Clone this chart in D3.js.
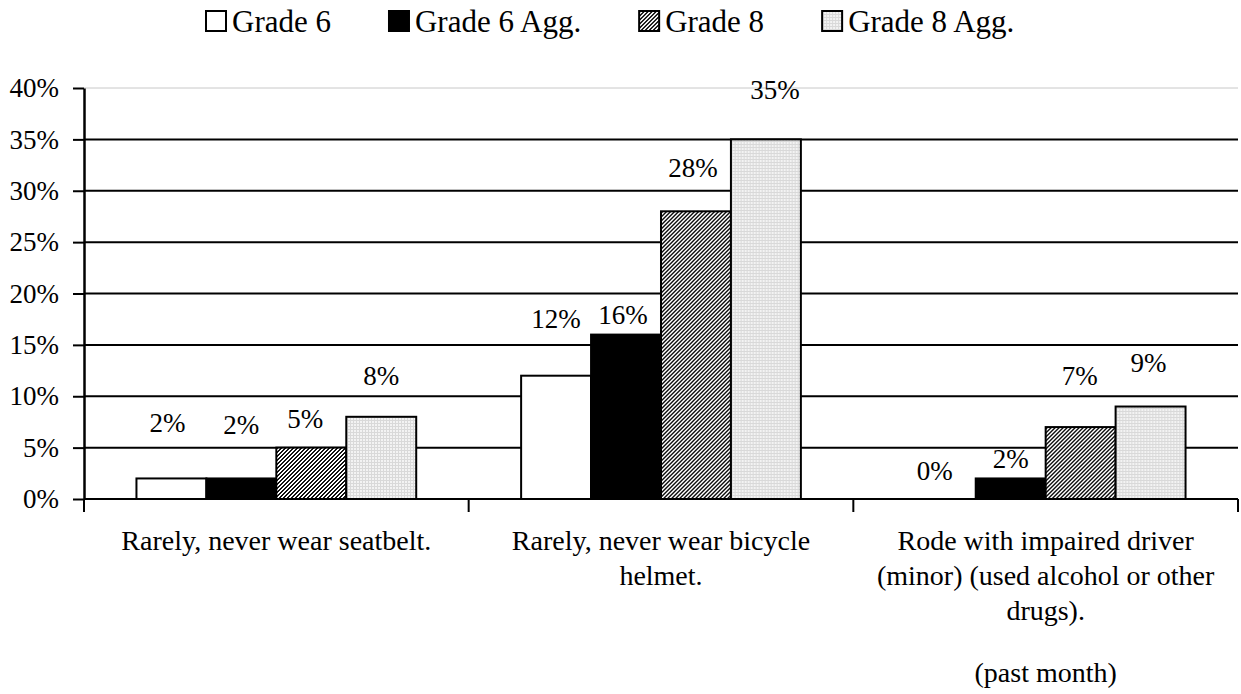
<!DOCTYPE html>
<html>
<head>
<meta charset="utf-8">
<script src="https://cdn.jsdelivr.net/npm/d3@7"></script>
<style>
  body { margin: 0; background: #fff; }
  text { font-family: "Liberation Serif", "Times New Roman", serif; fill: #000; }
</style>
</head>
<body>
<div id="chart"></div>
<script>
// chart data
var categories = [
  ["Rarely, never wear seatbelt."],
  ["Rarely, never wear bicycle", "helmet."],
  ["Rode with impaired driver", "(minor) (used alcohol or other", "drugs)."]
];
var footNote = "(past month)";
var seriesNames = ["Grade 6", "Grade 6 Agg.", "Grade 8", "Grade 8 Agg."];
var grade6 = [2, 12, 0];
var grade6Agg = [2, 16, 2];
var grade8 = [5, 28, 7];
var grade8Agg = [8, 35, 9];
var yTicks = [0, 5, 10, 15, 20, 25, 30, 35, 40];

// data label nudges [dx, dy] (the labels sit where they were dragged in the original)
var labelNudge = [
  [[-4, -46], [0, -44], [-6, -20], [0, -32]],
  [[0, -48], [-3, -11], [-3, -34], [9, -40]],
  [[-6, -19], [0, -10], [-1, -42], [-2, -35]]
];

var W = 1241, H = 694;
var margin = { top: 88, right: 3, bottom: 195, left: 84 },
    width = W - margin.left - margin.right,
    height = H - margin.top - margin.bottom;

var svg = d3.select("#chart").append("svg")
    .attr("width", W)
    .attr("height", H);

// fill patterns for the grade 8 bars
var defs = svg.append("defs");
var hatch = defs.append("pattern")
    .attr("id", "hatch")
    .attr("patternUnits", "userSpaceOnUse")
    .attr("width", 4).attr("height", 4);
hatch.append("rect").attr("width", 4).attr("height", 4).attr("fill", "#fff");
// upward diagonal stripes, pixel by pixel
for (var px = 0; px < 4; px++) {
  for (var py = 0; py < 4; py++) {
    if ((px + py) % 4 < 2) {
      hatch.append("rect")
          .attr("x", px).attr("y", py)
          .attr("width", 1).attr("height", 1)
          .attr("fill", "#111")
          .attr("shape-rendering", "crispEdges");
    }
  }
}

var dots = defs.append("pattern")
    .attr("id", "dots")
    .attr("patternUnits", "userSpaceOnUse")
    .attr("width", 3).attr("height", 3);
dots.append("rect").attr("width", 3).attr("height", 3).attr("fill", "#d9d9d9");
dots.append("rect").attr("width", 2).attr("height", 2).attr("fill", "#f3f3f3");

var fills = ["#fff", "#000", "url(#hatch)", "url(#dots)"];
var seriesValues = [grade6, grade6Agg, grade8, grade8Agg];

var g = svg.append("g")
    .attr("transform", "translate(" + margin.left + "," + margin.top + ")");

// scales
var catIdx = categories.map(function(d, i) { return i; });
var x0 = d3.scaleBand().domain(catIdx).range([0, width]);
var x1 = d3.scaleBand().domain(seriesNames).range([0, x0.bandwidth()]).paddingOuter(0.75);
var y = d3.scaleLinear().domain([0, 40]).range([height, 0]);

// gridlines
g.append("g").selectAll("line")
    .data(yTicks.filter(function(d) { return d > 0; }))
    .enter().append("line")
    .attr("x1", 0).attr("x2", width)
    .attr("y1", function(d) { return y(d); })
    .attr("y2", function(d) { return y(d); })
    .attr("stroke", function(d) { return d === 40 ? "#c8c8c8" : "#000"; })
    .attr("stroke-width", function(d) { return d === 40 ? 1 : 2; });

// bars
var rows = [];
catIdx.forEach(function(c) {
  seriesNames.forEach(function(s, si) {
    rows.push({ cat: c, series: s, si: si, value: seriesValues[si][c], nudge: labelNudge[c][si] });
  });
});

var groups = g.selectAll(".cat")
    .data(catIdx)
    .enter().append("g")
    .attr("class", "cat")
    .attr("transform", function(c) { return "translate(" + x0(c) + ",0)"; });

groups.selectAll("rect")
    .data(function(c) { return rows.filter(function(r) { return r.cat === c && r.value > 0; }); })
    .enter().append("rect")
    .attr("x", function(d) { return x1(d.series); })
    .attr("y", function(d) { return y(d.value); })
    .attr("width", x1.bandwidth())
    .attr("height", function(d) { return height - y(d.value); })
    .attr("fill", function(d) { return fills[d.si]; })
    .attr("stroke", "#000")
    .attr("stroke-width", 2);

groups.selectAll(".lbl")
    .data(function(c) { return rows.filter(function(r) { return r.cat === c; }); })
    .enter().append("text")
    .attr("class", "lbl")
    .attr("x", function(d) { return x1(d.series) + x1.bandwidth() / 2 + d.nudge[0]; })
    .attr("y", function(d) { return y(d.value) + d.nudge[1]; })
    .attr("text-anchor", "middle")
    .style("font-size", "27px")
    .text(function(d) { return d.value + "%"; });

// y axis
var yAxis = d3.axisLeft(y)
    .tickValues(yTicks)
    .tickFormat(function(d) { return d + "%"; })
    .tickSize(11)
    .tickSizeOuter(0)
    .tickPadding(14);

var ya = g.append("g").call(yAxis);
ya.select(".domain").attr("stroke", "#000").attr("stroke-width", 2.5);
ya.selectAll(".tick line").attr("stroke", "#000").attr("stroke-width", 2);
ya.selectAll(".tick text")
    .style("font-size", "27px")
    .style("font-family", "'Liberation Serif', 'Times New Roman', serif")
    .attr("fill", "#000");

// x axis: base line and ticks between categories
g.append("line")
    .attr("x1", 0).attr("x2", width)
    .attr("y1", height).attr("y2", height)
    .attr("stroke", "#000").attr("stroke-width", 2);

var bounds = catIdx.map(function(c) { return x0(c); }).concat([width]);
g.append("g").selectAll("line")
    .data(bounds)
    .enter().append("line")
    .attr("x1", function(d) { return d; })
    .attr("x2", function(d) { return d; })
    .attr("y1", height).attr("y2", height + 13)
    .attr("stroke", "#000").attr("stroke-width", 2);

// category labels
var lineGap = 35;
groups.append("text")
    .attr("text-anchor", "middle")
    .style("font-size", "28px")
    .selectAll("tspan")
    .data(function(c) { return categories[c]; })
    .enter().append("tspan")
    .attr("x", x0.bandwidth() / 2)
    .attr("y", function(d, i) { return height + 51 + i * lineGap; })
    .text(function(d) { return d; });

g.append("text")
    .attr("text-anchor", "middle")
    .attr("x", x0(2) + x0.bandwidth() / 2)
    .attr("y", height + 51 + 2 * lineGap + 62)
    .style("font-size", "28px")
    .text(footNote);

// legend
var legend = svg.append("g").attr("transform", "translate(205,0)");
var lx = 0;
seriesNames.forEach(function(s, i) {
  var item = legend.append("g").attr("transform", "translate(" + lx + ",0)");
  item.append("rect")
      .attr("x", 1).attr("y", 11)
      .attr("width", 20).attr("height", 20)
      .attr("fill", fills[i])
      .attr("stroke", "#000")
      .attr("stroke-width", 2);
  var t = item.append("text")
      .attr("x", 27).attr("y", 32)
      .style("font-size", "31px")
      .text(s);
  lx += 27 + t.node().getComputedTextLength() + 57;
});
</script>
</body>
</html>
